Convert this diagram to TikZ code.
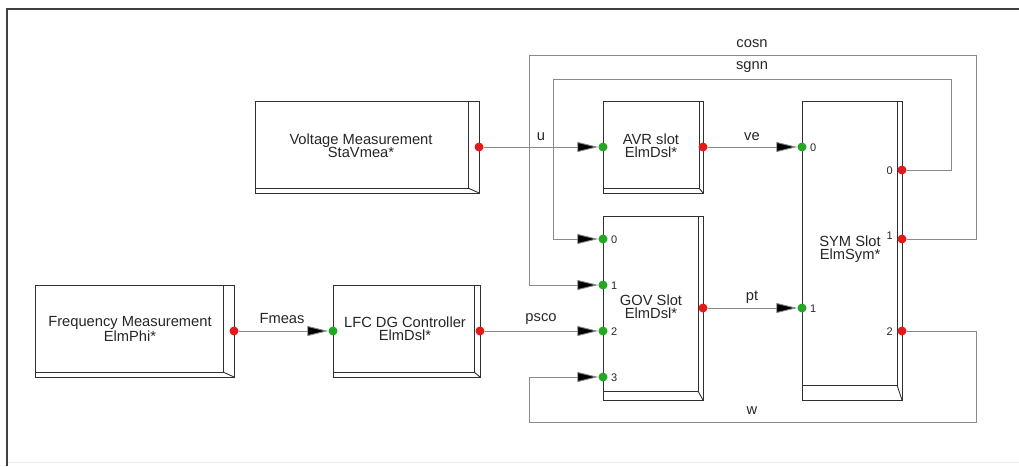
\documentclass[tikz,border=0pt]{standalone}
\usepackage{fontspec}
\setmainfont{Liberation Sans}
\usetikzlibrary{arrows.meta}
\definecolor{wirec}{HTML}{8A8A8A}
\definecolor{edgec}{HTML}{303030}
\definecolor{portred}{HTML}{E41A1A}
\definecolor{portgreen}{HTML}{22A822}
\definecolor{framec}{HTML}{404040}
\tikzset{
  blk/.style={draw=edgec, line width=0.9pt, rectangle, inner sep=0pt, outer sep=0pt},
  blkline/.style={draw=edgec, line width=0.9pt},
  btext/.style={font=\fontsize{14.7pt}{13.4pt}\selectfont, align=center, inner sep=0pt, text=black!85},
  wlabel/.style={font=\fontsize{14.7pt}{14pt}\selectfont, inner sep=0pt, text=black!85},
  plabel/.style={font=\fontsize{11pt}{12pt}\selectfont, inner sep=0pt, text=black!85},
  outport/.style={circle, fill=portred, inner sep=0pt, minimum size=9pt},
  inport/.style={circle, fill=portgreen, inner sep=0pt, minimum size=9pt},
  wire/.style={draw=wirec, line width=0.9pt},
  sig/.style={wire, -{Triangle[length=21pt,width=10pt,fill=black]}},
}
\newcommand\slotblock[7]{%
  \node[blk, anchor=north west, minimum width={(#4-#2)*1pt}, minimum height={(#5-#3)*1pt}] (#1) at (#2,#3) {};
  \draw[blkline] (#6,#3) -- (#6,#7) -- (#2,#7);
  \draw[blkline] (#6,#7) -- (#4,#5);
}
\begin{document}
\begin{tikzpicture}[x=1pt,y=-1pt]
\useasboundingbox (0,0) rectangle (1019,466);
\fill[white] (0,0) rectangle (1019,466);
% frame
\draw[framec, line width=1.6pt] (7,466) -- (7,9) -- (1019,9);
\draw[black!8, line width=0.8pt] (8,462) -- (1019,462);

% blocks
\slotblock{volt}{255}{101}{479}{193}{468}{188}
\slotblock{avr}{603}{101}{703}{193}{699}{188}
\slotblock{gov}{603}{216}{703}{400}{698}{391}
\slotblock{sym}{802}{101}{902}{400}{897}{385}
\slotblock{freq}{35}{285}{234}{377}{223}{372}
\slotblock{lfc}{333}{285}{480}{377}{474}{372}

% block texts
\node[btext] (voltT) at (361,146) {Voltage Measurement\\StaVmea*};
\node[btext] (avrT) at (651,146) {AVR slot\\ElmDsl*};
\node[btext] (govT) at (651,307) {GOV Slot\\ElmDsl*};
\node[btext] (symT) at (850,249) {SYM Slot\\ElmSym*};
\node[btext] (freqT) at (130,329) {Frequency Measurement\\ElmPhi*};
\node[btext] (lfcT) at (405,329) {LFC DG Controller\\ElmDsl*};

% ports
\node[outport] (volto) at (479,147) {};
\node[inport]  (avri)  at (603,147) {};
\node[outport] (avro)  at (703,147) {};
\node[inport]  (symi0) at (802,147) {};
\node[inport]  (symi1) at (802,308) {};
\node[outport] (symo0) at (902,170) {};
\node[outport] (symo1) at (902,239) {};
\node[outport] (symo2) at (902,331) {};
\node[inport]  (govi0) at (603,239) {};
\node[inport]  (govi1) at (603,285) {};
\node[inport]  (govi2) at (603,331) {};
\node[inport]  (govi3) at (603,377) {};
\node[outport] (govo)  at (703,308) {};
\node[outport] (freqo) at (234,331) {};
\node[inport]  (lfci)  at (333,331) {};
\node[outport] (lfco)  at (480,331) {};

% port numbers
\node[plabel, anchor=west] (pg0) at (611,240) {0};
\node[plabel, anchor=west] (pg1) at (611,286) {1};
\node[plabel, anchor=west] (pg2) at (611,332) {2};
\node[plabel, anchor=west] (pg3) at (611,378) {3};
\node[plabel, anchor=west] (psi0) at (810,148) {0};
\node[plabel, anchor=west] (psi1) at (810,309) {1};
\node[plabel, anchor=east] (pso0) at (893,171) {0};
\node[plabel, anchor=east] (pso1) at (893,236) {1};
\node[plabel, anchor=east] (pso2) at (893,332) {2};

% signal connectors
\draw[sig] (volto) -- (avri);
\draw[sig] (avro) -- (symi0);
\draw[sig] (govo) -- (symi1);
\draw[sig] (freqo) -- (lfci);
\draw[sig] (lfco) -- (govi2);

% feedback connectors
\draw[sig] (symo1) -- (976,239) -- (976,55) -- (529,55) -- (529,285) -- (govi1);
\draw[sig] (symo0) -- (951,170) -- (951,79) -- (553,79) -- (553,239) -- (govi0);
\draw[sig] (symo2) -- (976,331) -- (976,422) -- (529,422) -- (529,377) -- (govi3);

% wire labels
\node[wlabel] (lu) at (541,137) {u};
\node[wlabel] (lve) at (752,137) {ve};
\node[wlabel] (lpt) at (752,297) {pt};
\node[wlabel] (lfm) at (282,319) {Fmeas};
\node[wlabel] (lps) at (541,319) {psco};
\node[wlabel] (lcos) at (752,44) {cosn};
\node[wlabel] (lsg) at (752,67) {sgnn};
\node[wlabel] (lw) at (752,411) {w};
\end{tikzpicture}
\end{document}
